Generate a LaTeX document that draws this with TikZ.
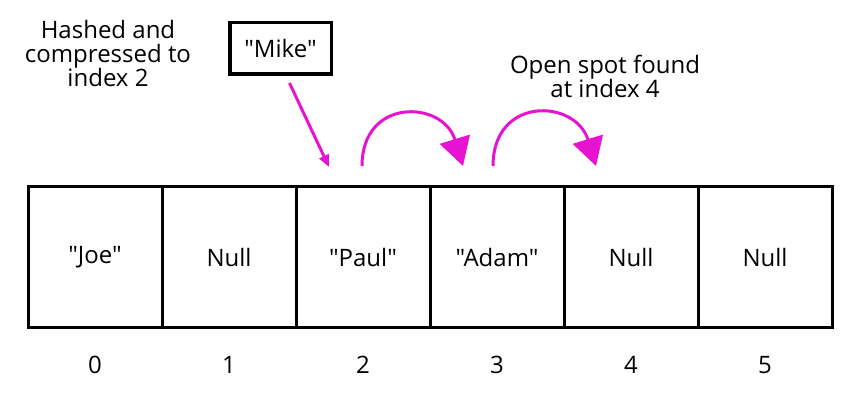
\documentclass[tikz,border=0pt]{standalone}
\usepackage{fontspec}
\setmainfont{Open Sans}[Ligatures=TeXOff]
\usetikzlibrary{arrows.meta,positioning}
\definecolor{probemag}{RGB}{230,20,210}

\begin{document}
\begin{tikzpicture}
[x=1pt,y=1pt,
 cellbox/.style={draw,black,line width=3pt,minimum width=134pt,minimum height=141pt,outer sep=0pt,inner sep=0pt,font=\fontsize{24}{24}\selectfont},
 keybox/.style={draw,black,line width=3.5pt,minimum width=101.5pt,minimum height=51.5pt,font=\fontsize{24}{24}\selectfont},
 idxlabel/.style={font=\fontsize{24}{24}\selectfont},
 notetext/.style={align=center,font=\fontsize{24}{24}\selectfont},
 hasharrow/.style={-{Triangle[length=12pt,width=10pt]},probemag,line width=3pt},
 probearrow/.style={-{Triangle[length=28pt,width=31pt]},probemag,line width=3pt}]

\useasboundingbox (0,0) rectangle (860,-403);

% table cells and indices
\foreach \i/\val in {0/"Joe",1/Null,2/"Paul",3/"Adam",4/Null,5/Null}{
  \node[cellbox](c\i) at (95+134*\i,-257.5){\val};
  \node[idxlabel](n\i) at ([yshift=-37pt]c\i.south){\i};
}

% key to insert
\node[keybox](mike) at (280.5,-48.5){"Mike"};
\draw[hasharrow] ([xshift=9pt,yshift=-7pt]mike.south) -- ([xshift=33pt,yshift=20pt]c2.north west);

% linear probing
\draw[probearrow] ([xshift=-1pt,yshift=21pt]c2.north) to[out=90,in=107,looseness=1.75] ([xshift=33pt,yshift=21pt]c3.north west);
\draw[probearrow] ([xshift=-4pt,yshift=21pt]c3.north) to[out=90,in=107,looseness=1.75] ([xshift=32pt,yshift=21pt]c4.north west);

% notes
\node[notetext](hashnote) at (108,-54){Hashed and\\compressed to\\index 2};
\node[notetext](opennote) at (605,-76){Open spot found\\at index 4};

\end{tikzpicture}
\end{document}
